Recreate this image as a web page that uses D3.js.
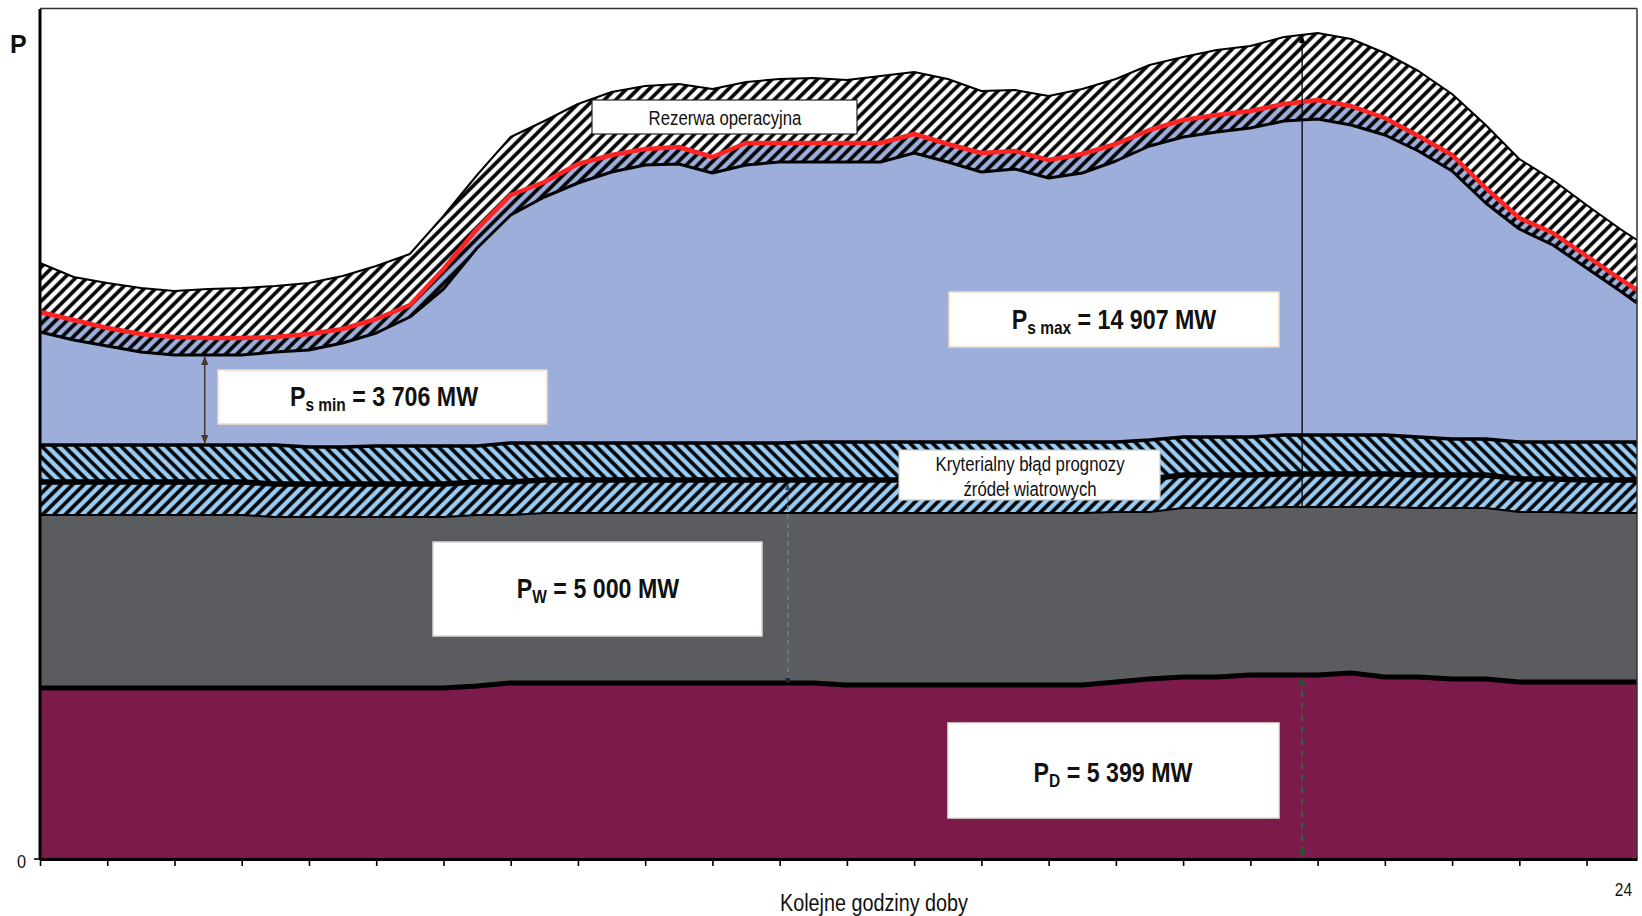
<!DOCTYPE html>
<html><head><meta charset="utf-8">
<script src="https://cdn.jsdelivr.net/npm/d3@7"></script>
<style>
html,body{margin:0;padding:0;background:#fff;}
svg{display:block;}
text{font-family:"Liberation Sans","Arial",sans-serif;}
</style></head><body>
<svg id="chart" width="1642" height="916"></svg>
<script>
// ---- data (MW), half-hour grid ----
const hours = [0,0.5,1,1.5,2,2.5,3,3.5,4,4.5,5,5.5,6,6.5,7,7.5,8,8.5,9,9.5,10,10.5,11,11.5,12,12.5,13,13.5,14,14.5,15,15.5,16,16.5,17,17.5,18,18.5,19,19.5,20,20.5,21,21.5,22,22.5,23,23.5,23.75];
// top of conventional must-run generation (P_D)
const convTop = [5130,5130,5130,5130,5130,5130,5130,5130,5130,5130,5130,5130,5130,5190,5280,5280,5280,5280,5280,5280,5280,5280,5280,5280,5220,5220,5220,5220,5220,5220,5220,5220,5310,5400,5460,5460,5520,5520,5520,5580,5460,5460,5400,5400,5310,5310,5310,5310,5310];
// top of wind generation (P_W)
const windTop = [10320,10320,10320,10320,10320,10320,10320,10260,10260,10260,10260,10260,10260,10320,10320,10380,10380,10380,10380,10380,10380,10380,10380,10380,10380,10380,10380,10380,10380,10380,10380,10380,10410,10410,10530,10530,10530,10560,10560,10560,10560,10530,10530,10530,10410,10410,10380,10380,10380];
// wind forecast error bands
const windErrMid = [11310,11310,11310,11310,11310,11310,11310,11250,11250,11250,11250,11250,11250,11310,11310,11370,11370,11370,11370,11370,11370,11370,11370,11370,11370,11370,11370,11370,11370,11370,11370,11370,11400,11400,11520,11520,11520,11550,11550,11550,11550,11520,11520,11520,11400,11400,11370,11370,11370];
const windErrTop = [12420,12420,12420,12420,12420,12420,12420,12420,12360,12360,12390,12390,12390,12390,12480,12480,12480,12480,12480,12480,12480,12480,12480,12510,12510,12510,12510,12510,12510,12510,12510,12510,12510,12570,12660,12660,12660,12720,12720,12720,12720,12660,12600,12600,12510,12510,12510,12510,12510];
// operating reserve: lower edge, load (red), upper edge
const reserveDown = [15810,15570,15390,15210,15120,15120,15120,15210,15270,15480,15780,16260,17100,18330,19320,19860,20280,20610,20820,20850,20580,20820,20910,20910,20910,20910,21180,20910,20610,20700,20430,20580,20940,21390,21660,21810,21930,22140,22200,22020,21720,21240,20640,19680,18900,18420,17730,17040,16680];
const load = [16410,16170,15930,15750,15660,15630,15630,15660,15750,15900,16200,16620,17700,18900,19920,20310,20850,21120,21300,21360,21060,21480,21480,21480,21480,21480,21750,21450,21180,21240,20970,21150,21450,21870,22170,22320,22440,22650,22770,22590,22230,21690,21120,20130,19230,18780,18090,17400,17070];
const reserveUp = [17880,17460,17280,17130,17040,17100,17130,17190,17280,17490,17790,18150,19290,20520,21660,22140,22650,23010,23190,23250,23100,23310,23400,23430,23370,23490,23610,23400,23040,23070,22890,23100,23400,23820,24060,24270,24390,24660,24780,24600,24180,23640,22950,22020,21000,20370,19620,18900,18570];
const tickHours = [0,1,2,3,4,5,6,7,8,9,10,11,12,13,14,15,16,17,18,19,20,21,22,23];
const labels = {
  psmin: ["P","s min"," = 3 706 MW"],
  psmax: ["P","s max"," = 14 907 MW"],
  pw: ["P","W"," = 5 000 MW"],
  pd: ["P","D"," = 5 399 MW"]
};
const arrowHours = {psmin: 2.45, pw: 11.12, pmax: 18.77};

// ---- scales ----
const x = d3.scaleLinear().domain([0, 23.75]).range([40, 1637]);
const y = d3.scaleLinear().domain([0, 25500]).range([859, 9]);

const svg = d3.select("#chart");
const defs = svg.append("defs");

function hatch(id, bg, angle){
  const p = defs.append("pattern").attr("id", id).attr("patternUnits","userSpaceOnUse")
    .attr("width",8).attr("height",8).attr("patternTransform",`rotate(${angle})`);
  p.append("rect").attr("width",8).attr("height",8).attr("fill",bg);
  p.append("line").attr("x1",2).attr("y1",-1).attr("x2",2).attr("y2",9)
    .attr("stroke","#000").attr("stroke-width",3.6);
}
hatch("hUp","#ffffff",45);
hatch("hDown","#9daedb",45);
hatch("hW1","#99ccf5",45);
hatch("hW2","#99ccf5",-45);

function marker(id,color,size){
  defs.append("marker").attr("id",id).attr("viewBox","0 0 10 10").attr("refX",9).attr("refY",5)
    .attr("markerWidth",size).attr("markerHeight",size).attr("markerUnits","userSpaceOnUse")
    .attr("orient","auto-start-reverse")
    .append("path").attr("d","M0,1 L10,5 L0,9 z").attr("fill",color);
}
marker("mBrown","#4a3a2c",9);
marker("mBlack","#000",8);
marker("mGreen","#1d5a2a",8);
marker("mBlue","#2d4a66",7);

const area = (lo, hi) => d3.area()
  .x((d,i)=>x(hours[i]))
  .y0((d,i)=> lo ? y(lo[i]) : y(0))
  .y1((d,i)=>y(hi[i]))(hours);
const line = arr => d3.line().x((d,i)=>x(hours[i])).y(d=>y(d))(arr);

const g = svg.append("g");
const layers = [
  {lo:null, hi:convTop, fill:"#7b1a4b"},
  {lo:convTop, hi:windTop, fill:"#5b5c60"},
  {lo:windTop, hi:windErrMid, fill:"url(#hW1)"},
  {lo:windErrMid, hi:windErrTop, fill:"url(#hW2)"},
  {lo:windErrTop, hi:reserveDown, fill:"#9daedb"},
  {lo:reserveDown, hi:load, fill:"url(#hDown)"},
  {lo:load, hi:reserveUp, fill:"url(#hUp)"}
];
g.selectAll("path.layer").data(layers).join("path").attr("class","layer")
  .attr("d",d=>area(d.lo,d.hi)).attr("fill",d=>d.fill).attr("stroke","none");

const edges = [
  {arr:convTop, c:"#000", w:5},
  {arr:windTop, c:"#000", w:2},
  {arr:windErrMid, c:"#000", w:5.5},
  {arr:windErrTop, c:"#000", w:3.5},
  {arr:reserveDown, c:"#000", w:3},
  {arr:reserveUp, c:"#000", w:2},
  {arr:load, c:"#ff2424", w:4.5}
];
g.selectAll("path.edge").data(edges).join("path").attr("class","edge")
  .attr("d",d=>line(d.arr)).attr("fill","none").attr("stroke",d=>d.c)
  .attr("stroke-width",d=>d.w).attr("stroke-linejoin","round");

// ---- frame & axes ----
svg.append("line").attr("x1",40).attr("x2",1637).attr("y1",8.5).attr("y2",8.5).attr("stroke","#333").attr("stroke-width",1.5);
svg.append("line").attr("x1",1637).attr("x2",1637).attr("y1",8.5).attr("y2",859).attr("stroke","#333").attr("stroke-width",1.5);
const xAxis = svg.append("g").attr("transform",`translate(0,${y(0)})`)
  .call(d3.axisBottom(x).tickValues(tickHours).tickSize(7).tickSizeOuter(0).tickFormat(""));
xAxis.select(".domain").attr("stroke","#000").attr("stroke-width",3);
xAxis.selectAll(".tick line").attr("stroke","#000").attr("stroke-width",1.6);
svg.append("line").attr("x1",40).attr("x2",40).attr("y1",9).attr("y2",860).attr("stroke","#000").attr("stroke-width",3);
svg.append("line").attr("x1",34).attr("x2",40).attr("y1",y(0)).attr("y2",y(0)).attr("stroke","#000").attr("stroke-width",1.6);

function condensed(xc, yb, size, txt, opts){
  opts = opts || {};
  const gg = svg.append("g").attr("transform",`translate(${xc},${yb}) scale(${opts.sx||0.86},1)`);
  return gg.append("text").attr("x",0).attr("y",0).attr("text-anchor",opts.anchor||"middle")
    .attr("font-size",size).attr("font-weight",opts.bold?"bold":"normal").attr("fill","#111").text(txt);
}
condensed(10,53,25,"P",{anchor:"start",bold:true,sx:1});
condensed(26,868,19,"0",{anchor:"end"});
condensed(1632,896,18,"24",{anchor:"end"});
condensed(874,911,23,"Kolejne godziny doby");

// ---- arrows ----
function valAt(arr,h){
  const i = Math.min(d3.bisectRight(hours,h)-1, hours.length-2);
  const t = (h-hours[i])/(hours[i+1]-hours[i]);
  return arr[i]+t*(arr[i+1]-arr[i]);
}
const ax1 = x(arrowHours.psmin);
svg.append("line").attr("x1",ax1).attr("x2",ax1)
  .attr("y1",y(valAt(windErrTop,arrowHours.psmin))-2).attr("y2",y(valAt(reserveDown,arrowHours.psmin))+2)
  .attr("stroke","#4a3a2c").attr("stroke-width",1.6)
  .attr("marker-start","url(#mBrown)").attr("marker-end","url(#mBrown)");
const ax2 = x(arrowHours.pw);
svg.append("line").attr("x1",ax2).attr("x2",ax2)
  .attr("y1",y(valAt(convTop,arrowHours.pw))-2).attr("y2",y(valAt(windErrMid,arrowHours.pw))+4)
  .attr("stroke","#5a86ad").attr("stroke-width",1.4).attr("stroke-dasharray","5,4")
  .attr("marker-end","url(#mBlue)");
svg.append("circle").attr("cx",ax2).attr("cy",y(valAt(convTop,arrowHours.pw))-3).attr("r",2.5).attr("fill","#1a2a3a");
const ax3 = x(arrowHours.pmax);
svg.append("line").attr("x1",ax3).attr("x2",ax3)
  .attr("y1",y(valAt(windTop,arrowHours.pmax))).attr("y2",y(valAt(reserveUp,arrowHours.pmax))+1)
  .attr("stroke","#000").attr("stroke-width",1.3)
  .attr("marker-end","url(#mBlack)");
svg.append("line").attr("x1",ax3).attr("x2",ax3)
  .attr("y1",y(valAt(convTop,arrowHours.pmax))+3).attr("y2",y(0)-2)
  .attr("stroke","#2a6a3a").attr("stroke-width",1.5).attr("stroke-dasharray","7,5")
  .attr("marker-start","url(#mGreen)").attr("marker-end","url(#mGreen)");

// ---- boxes ----
function box(x0,y0,x1,y1,stroke,sw){
  svg.append("rect").attr("x",x0).attr("y",y0).attr("width",x1-x0).attr("height",y1-y0)
    .attr("fill","#fff").attr("stroke",stroke).attr("stroke-width",sw||1);
}
function subLabel(cx,by,parts){
  const gg = svg.append("g").attr("transform",`translate(${cx},${by}) scale(0.86,1)`);
  const t = gg.append("text").attr("x",0).attr("y",0).attr("text-anchor","middle")
    .attr("font-size",27).attr("font-weight","bold").attr("fill","#111");
  t.append("tspan").text(parts[0]);
  t.append("tspan").attr("font-size",18).attr("dy",5).text(parts[1]);
  t.append("tspan").attr("dy",-5).text(parts[2]);
}
box(592,100,857,134,"#222",1.2);
condensed(725,125,19.5,"Rezerwa operacyjna");

box(949,292,1279,347,"#f3d9c4",1.5);
subLabel(1114,329,labels.psmax);
box(218,370,547,424,"#f3d9c4",1.5);
subLabel(384,406,labels.psmin);
box(433,542,762,636,"#d8d8d8",1.5);
subLabel(598,598,labels.pw);
box(948,723,1279,818,"#d9ecd9",1.5);
subLabel(1113,782,labels.pd);

box(899,450,1160,500,"#cccccc",1.2);
condensed(1030,471,19.5,"Kryterialny błąd prognozy");
condensed(1030,496,19.5,"źródeł wiatrowych");
</script>
</body></html>
